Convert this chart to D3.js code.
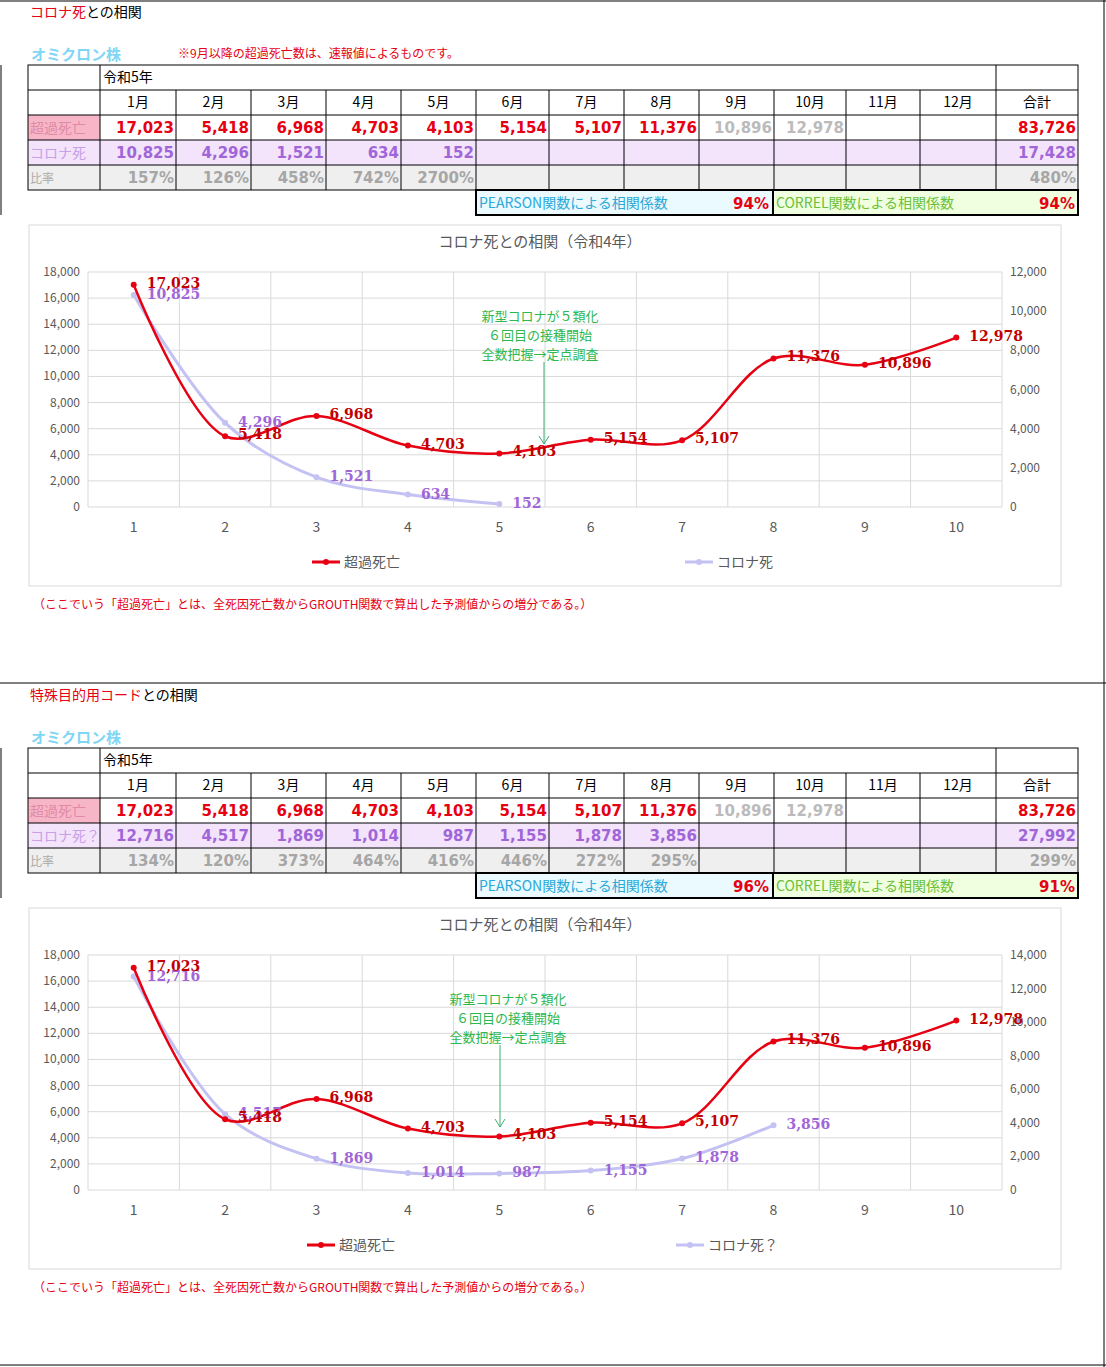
<!DOCTYPE html>
<html><head><meta charset="utf-8">
<script src="https://cdn.jsdelivr.net/npm/d3@7/dist/d3.min.js"></script>
<style>body{margin:0;background:#fff}svg{display:block;font-family:"Noto Sans CJK JP","Noto Sans",sans-serif}</style>
</head><body><svg id="c" width="1106" height="1367"></svg>
<script>
// --- data ---
var months = ["1月","2月","3月","4月","5月","6月","7月","8月","9月","10月","11月","12月"];
var excess = [17023,5418,6968,4703,4103,5154,5107,11376,10896,12978];
var excessFinal = 8; // first 8 months are final, rest preliminary (grey)
var covid1 = [10825,4296,1521,634,152];
var covid2 = [12716,4517,1869,1014,987,1155,1878,3856];
var ratio1 = ["157%","126%","458%","742%","2700%"];
var ratio2 = ["134%","120%","373%","464%","416%","446%","272%","295%"];
var leftTicks = [0,2000,4000,6000,8000,10000,12000,14000,16000,18000];
var rightTicks1 = [0,2000,4000,6000,8000,10000,12000];
var rightTicks2 = [0,2000,4000,6000,8000,10000,12000,14000];

var svg = d3.select("#c"), fmt = d3.format(",");
var RED = "#e60012", DRED = "#c00000", PUR = "#a066d8", LAV = "#c4c2f2";

// frame lines
svg.append("line").attr("x1",0).attr("x2",1106).attr("y1",1).attr("y2",1).attr("stroke","#000");
svg.append("line").attr("x1",1104).attr("x2",1104).attr("y1",0).attr("y2",683).attr("stroke","#000");
svg.append("line").attr("x1",0).attr("x2",1106).attr("y1",683).attr("y2",683).attr("stroke","#000");
svg.append("line").attr("x1",1104).attr("x2",1104).attr("y1",683).attr("y2",1367).attr("stroke","#000");
svg.append("line").attr("x1",0).attr("x2",1106).attr("y1",1365).attr("y2",1365).attr("stroke","#000");

function section(oy, o) {
  var g = svg.append("g").attr("transform","translate(0,"+oy+")");
  var t = g.append("text").attr("x",30).attr("y",17).attr("font-size",14);
  t.append("tspan").attr("fill",RED).text(o.title[0]);
  t.append("tspan").attr("fill","#000").text(o.title[1]);
  g.append("text").attr("x",31).attr("y",60).attr("font-size",15).attr("font-weight","bold")
    .attr("fill","#7fd6f5").text("オミクロン株");
  if (o.note) g.append("text").attr("x",178).attr("y",58).attr("font-size",12).attr("fill",RED).text(o.note);
  g.append("line").attr("x1",1).attr("x2",1).attr("y1",65).attr("y2",215).attr("stroke","#000");

  // table
  var cx = [28,100,176,251,326,401,476,549,624,699,774,846,920,996,1078];
  var ry = [65,90,115,140,165,190];
  var rowBg = [null,null,null,"#f3e3fb","#efefef"];
  [3,4].forEach(function(r){
    g.append("rect").attr("x",100).attr("y",ry[r]).attr("width",978).attr("height",25).attr("fill",rowBg[r]);
  });
  g.append("rect").attr("x",28).attr("y",115).attr("width",72).attr("height",25).attr("fill","#f7b6c8");
  g.append("rect").attr("x",28).attr("y",140).attr("width",72).attr("height",25).attr("fill","#f3e3fb");
  g.append("rect").attr("x",28).attr("y",165).attr("width",72).attr("height",25).attr("fill","#efefef");
  var st = {stroke:"#000","stroke-width":1};
  g.append("rect").attr("x",28).attr("y",65).attr("width",1050).attr("height",125).attr("fill","none").attr("stroke","#000");
  ry.slice(1,5).forEach(function(y,i){
    g.append("line").attr("x1", i===0 ? 28 : 28).attr("x2",1078).attr("y1",y).attr("y2",y).attr("stroke","#000");
  });
  g.selectAll("line.v").data(cx.slice(1,-1)).join("line").attr("x1",d=>d).attr("x2",d=>d)
    .attr("y1",(d,i)=> (i===0||i===12) ? 65 : 90).attr("y2",190).attr("stroke","#000");
  g.append("text").attr("x",103).attr("y",82).attr("font-size",14).text("令和5年");
  months.forEach(function(m,i){
    g.append("text").attr("x",(cx[i+1]+cx[i+2])/2).attr("y",107).attr("text-anchor","middle").attr("font-size",14).text(m);
  });
  g.append("text").attr("x",1037).attr("y",107).attr("text-anchor","middle").attr("font-size",14).text("合計");
  var lab = [["超過死亡","#e08aa4"],[o.covidName,"#c7a0e8"],["比率","#aaa"]];
  lab.forEach(function(l,i){
    g.append("text").attr("x",30).attr("y",ry[2+i]+18).attr("font-size",i===2?12:14).attr("fill",l[1]).text(l[0]);
  });
  function num(x,y,s,c){ g.append("text").attr("x",x).attr("y",y).attr("text-anchor","end").attr("font-size",15)
    .attr("font-weight","bold").attr("font-family","DejaVu Sans").attr("fill",c).text(s); }
  excess.forEach(function(v,i){ num(cx[i+2]-2,133,fmt(v), i<excessFinal ? RED : "#bbb"); });
  o.covid.forEach(function(v,i){ num(cx[i+2]-2,158,fmt(v),PUR); });
  o.ratio.forEach(function(v,i){ num(cx[i+2]-2,183,v,"#a6a6a6"); });
  num(1076,133,fmt(d3.sum(excess.slice(0,excessFinal))+excess[8]+excess[9]),RED);
  num(1076,158,fmt(d3.sum(o.covid)),PUR);
  num(1076,183,o.totalRatio,"#a6a6a6");
  // coefficient boxes
  g.append("rect").attr("x",476).attr("y",190).attr("width",297).attr("height",25).attr("fill","#eafaff").attr("stroke","#000").attr("stroke-width",2);
  g.append("rect").attr("x",773).attr("y",190).attr("width",305).attr("height",25).attr("fill","#efffe0").attr("stroke","#000").attr("stroke-width",2);
  g.append("text").attr("x",479).attr("y",208).attr("font-size",14).attr("fill","#2aa8d8").text("PEARSON関数による相関係数");
  g.append("text").attr("x",776).attr("y",208).attr("font-size",14).attr("fill","#6cbf3a").text("CORREL関数による相関係数");
  num(769,209,o.pearson,RED); num(1075,209,o.correl,RED);

  // chart
  g.append("rect").attr("x",29).attr("y",225).attr("width",1032).attr("height",361).attr("fill","#fff").attr("stroke","#d9d9d9");
  g.append("text").attr("x",540).attr("y",247).attr("text-anchor","middle").attr("font-size",15).attr("fill","#595959")
    .text("コロナ死との相関（令和4年）");
  var x = d3.scaleBand().domain(d3.range(1,11)).range([88,1002]);
  var yl = d3.scaleLinear().domain([0,18000]).range([507,272]);
  var yr = d3.scaleLinear().domain([0,d3.max(o.rticks)]).range([507,272]);
  var xc = d => x(d)+x.bandwidth()/2;
  g.selectAll("line.h").data(leftTicks).join("line").attr("x1",88).attr("x2",1002)
    .attr("y1",d=>yl(d)).attr("y2",d=>yl(d)).attr("stroke","#d9d9d9");
  g.selectAll("line.vg").data(d3.range(0,11)).join("line").attr("x1",d=>88+d*x.step()).attr("x2",d=>88+d*x.step())
    .attr("y1",272).attr("y2",507).attr("stroke","#d9d9d9");
  var ax = {fill:"#595959","font-size":13};
  g.selectAll("text.yl").data(leftTicks).join("text").attr("x",80).attr("y",d=>yl(d)+4).attr("text-anchor","end")
    .attr("font-size",12).attr("fill","#595959").text(fmt);
  g.selectAll("text.yr").data(o.rticks).join("text").attr("x",1010).attr("y",d=>yr(d)+4)
    .attr("font-size",12).attr("fill","#595959").text(fmt);
  g.selectAll("text.xl").data(d3.range(1,11)).join("text").attr("x",xc).attr("y",532).attr("text-anchor","middle")
    .attr("font-size",14).attr("fill","#595959").text(d=>d);

  var ptsC = o.covid.map((v,i)=>[xc(i+1),yr(v)]);
  var ptsE = excess.map((v,i)=>[xc(i+1),yl(v)]);
  var line = d3.line().curve(d3.curveCatmullRom.alpha(0.5));
  g.append("path").attr("d",line(ptsC)).attr("fill","none").attr("stroke",LAV).attr("stroke-width",3);
  g.selectAll("circle.c").data(ptsC).join("circle").attr("cx",d=>d[0]).attr("cy",d=>d[1]).attr("r",3).attr("fill",LAV);
  g.append("path").attr("d",line(ptsE)).attr("fill","none").attr("stroke",RED).attr("stroke-width",2.5);
  g.selectAll("circle.e").data(ptsE).join("circle").attr("cx",d=>d[0]).attr("cy",d=>d[1]).attr("r",3).attr("fill",RED);
  function lbl(p,v,c,dy){ g.append("text").attr("x",p[0]+13).attr("y",p[1]+dy).attr("font-size",14).attr("font-weight","bold")
    .attr("font-family","DejaVu Serif").attr("fill",c).text(fmt(v)); }
  ptsC.forEach((p,i)=>lbl(p,o.covid[i],PUR,4));
  ptsE.forEach((p,i)=>lbl(p,excess[i],DRED,3));

  // annotation
  ["新型コロナが５類化","６回目の接種開始","全数把握→定点調査"].forEach(function(s,i){
    g.append("text").attr("x",o.ann[0]).attr("y",321+i*19).attr("text-anchor","middle").attr("font-size",13)
      .attr("fill","#2eb84e").text(s);
  });
  g.append("line").attr("x1",o.ann[1]).attr("x2",o.ann[1]).attr("y1",362).attr("y2",o.ann[2]).attr("stroke","#3cb070");
  g.append("path").attr("d","M"+(o.ann[1]-5)+","+(o.ann[2]-8)+"L"+o.ann[1]+","+o.ann[2]+"L"+(o.ann[1]+5)+","+(o.ann[2]-8))
    .attr("fill","none").attr("stroke","#3cb070");

  // legend
  g.append("line").attr("x1",o.leg[0]).attr("x2",o.leg[0]+28).attr("y1",562).attr("y2",562).attr("stroke",RED).attr("stroke-width",3);
  g.append("circle").attr("cx",o.leg[0]+14).attr("cy",562).attr("r",3).attr("fill",RED);
  g.append("text").attr("x",o.leg[0]+32).attr("y",567).attr("font-size",14).attr("fill","#595959").text("超過死亡");
  g.append("line").attr("x1",o.leg[1]).attr("x2",o.leg[1]+28).attr("y1",562).attr("y2",562).attr("stroke",LAV).attr("stroke-width",3);
  g.append("circle").attr("cx",o.leg[1]+14).attr("cy",562).attr("r",3).attr("fill",LAV);
  g.append("text").attr("x",o.leg[1]+32).attr("y",567).attr("font-size",14).attr("fill","#595959").text(o.legName);

  g.append("text").attr("x",33).attr("y",609).attr("font-size",12).attr("fill",RED)
    .text("（ここでいう「超過死亡」とは、全死因死亡数からGROUTH関数で算出した予測値からの増分である。）");
}

section(0,{title:["コロナ死","との相関"],note:"※9月以降の超過死亡数は、速報値によるものです。",covidName:"コロナ死",
  covid:covid1,ratio:ratio1,totalRatio:"480%",pearson:"94%",correl:"94%",rticks:rightTicks1,
  ann:[540,544,444],leg:[312,685],legName:"コロナ死"});
section(683,{title:["特殊目的用コード","との相関"],note:null,covidName:"コロナ死？",
  covid:covid2,ratio:ratio2,totalRatio:"299%",pearson:"96%",correl:"91%",rticks:rightTicks2,
  ann:[508,500,444],leg:[307,676],legName:"コロナ死？"});
</script></body></html>
